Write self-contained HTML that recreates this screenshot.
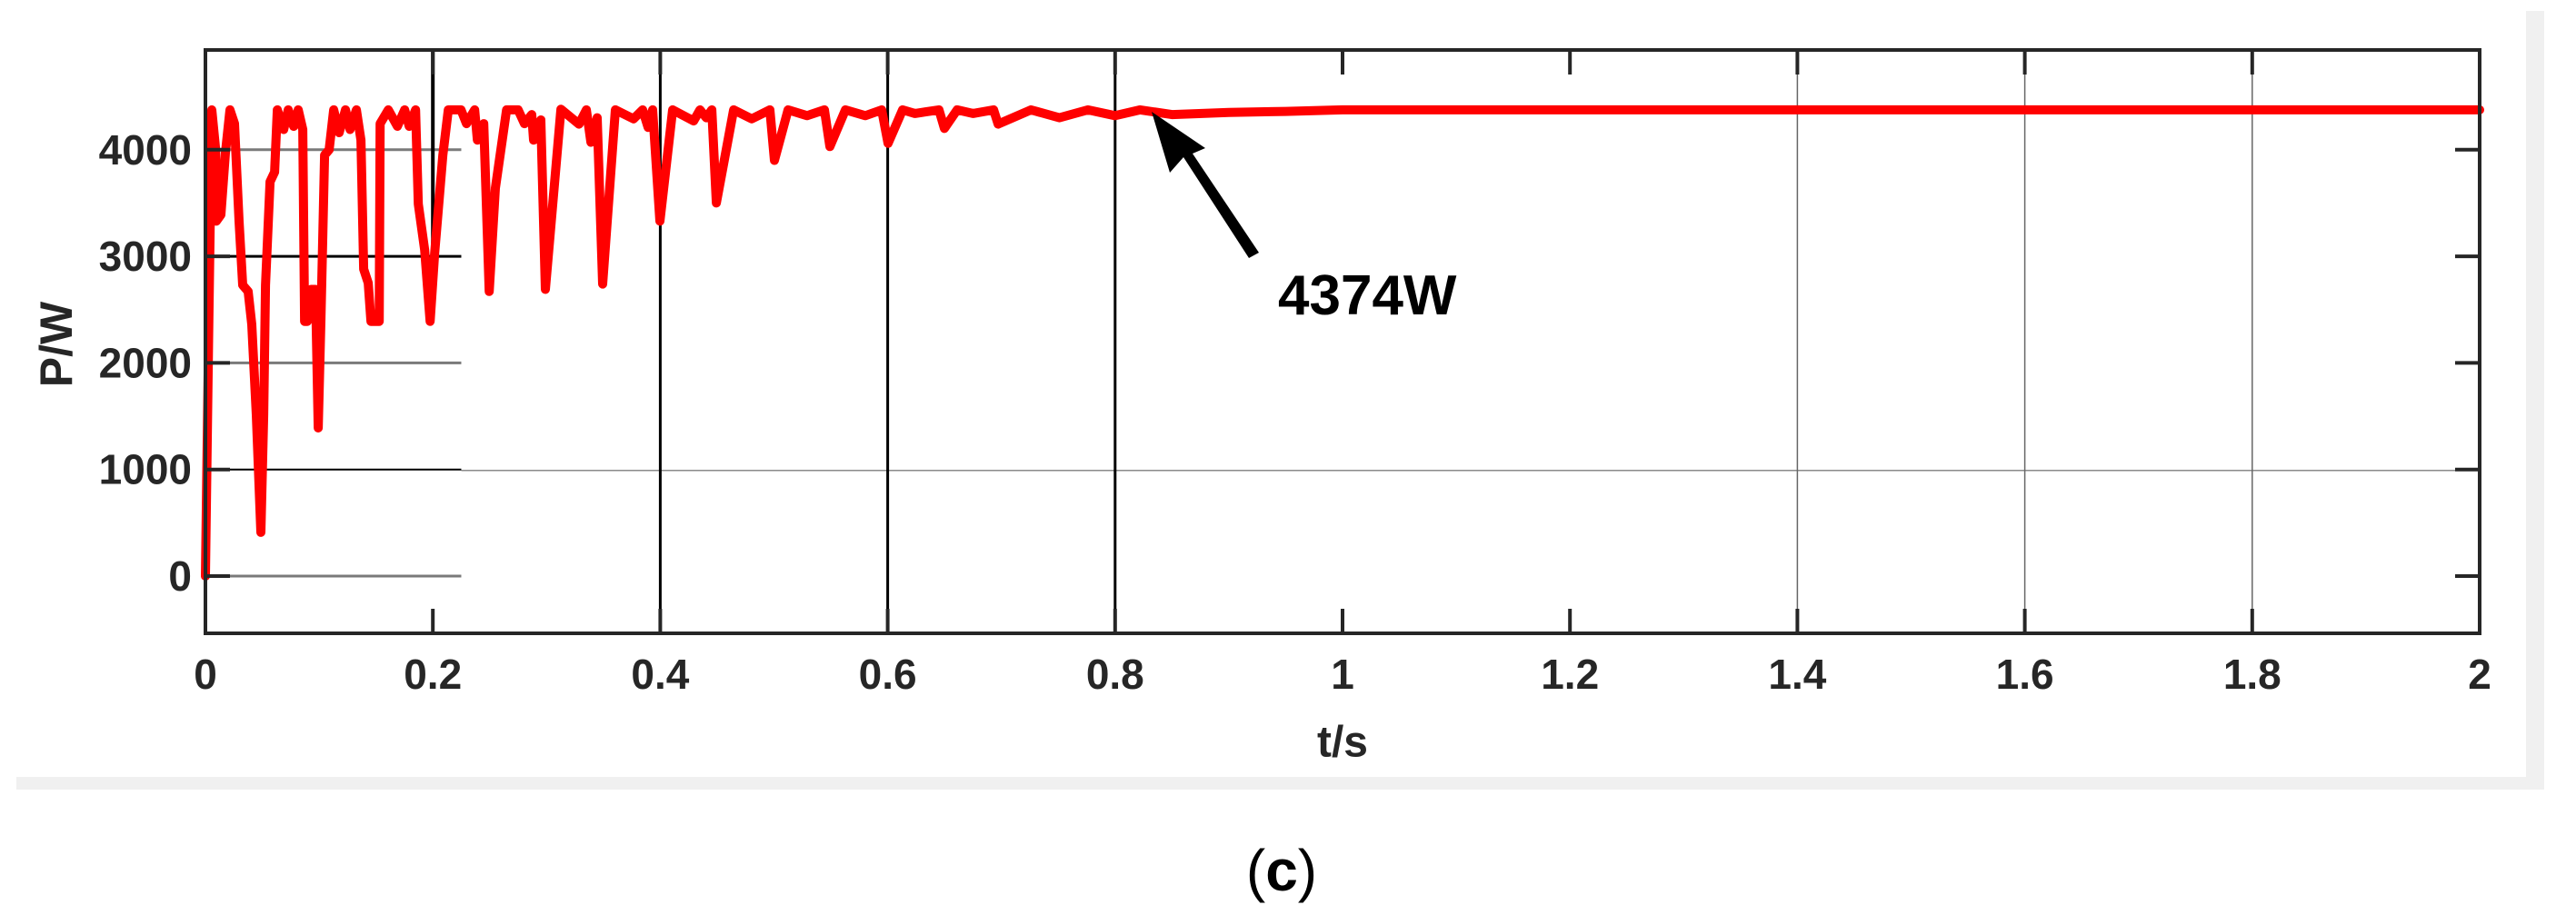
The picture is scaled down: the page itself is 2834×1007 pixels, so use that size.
<!DOCTYPE html>
<html><head><meta charset="utf-8"><style>
html,body{margin:0;padding:0;background:#fff;}
svg{display:block;}
text{font-family:"Liberation Sans",Arial,sans-serif;}
</style></head><body>
<svg id="chart" width="2834" height="1007" viewBox="0 0 2834 1007" xmlns="http://www.w3.org/2000/svg">
<rect x="18" y="855" width="2781" height="14" fill="#f0f0f0"/>
<rect x="2779" y="12" width="20" height="857" fill="#f0f0f0"/>
<g id="grid"></g>
<g id="series"></g>
<g id="axes"></g>
<text x="62" y="379" transform="rotate(-90 62 379)" text-anchor="middle" dominant-baseline="central" font-size="50" font-weight="bold" fill="#262626">P/W</text>
<text x="1477" y="817" text-anchor="middle" dominant-baseline="central" font-size="48" font-weight="bold" fill="#262626">t/s</text>
<text x="1406" y="346" font-size="62" font-weight="bold" fill="#000">4374W</text>
<polygon points="1267,123 1326,163 1312,169 1385,278 1374,284 1302,173 1287,190" fill="#000"/>
<text x="1410" y="980" text-anchor="middle" font-size="64" font-family="Liberation Serif,serif" fill="#000">(<tspan font-weight="bold">c</tspan>)</text>
</svg>
<script>
const tVals=[0,0.003,0.0056,0.009,0.0096,0.0136,0.0176,0.0216,0.0256,0.0296,0.0328,0.0376,0.0408,0.0448,0.0488,0.0512,0.0528,0.0568,0.0608,0.0632,0.0688,0.0728,0.0776,0.0816,0.0856,0.0872,0.0896,0.0928,0.0968,0.0992,0.1016,0.1048,0.1088,0.1128,0.1176,0.1232,0.1272,0.1328,0.1368,0.1392,0.1432,0.1456,0.1528,0.1536,0.1608,0.1688,0.1752,0.1792,0.1848,0.1872,0.1928,0.1976,0.2016,0.2088,0.2136,0.2248,0.2296,0.2368,0.2392,0.2448,0.2496,0.255,0.2648,0.275,0.2806,0.287,0.2886,0.295,0.299,0.3054,0.3126,0.3285,0.335,0.339,0.3445,0.3493,0.3605,0.3765,0.3845,0.3893,0.3933,0.3997,0.4109,0.4293,0.4349,0.4405,0.4453,0.4493,0.4645,0.4804,0.4964,0.5004,0.5124,0.5292,0.5444,0.5492,0.5628,0.5803,0.5947,0.6003,0.6131,0.624,0.6451,0.6499,0.6611,0.675,0.6931,0.6971,0.726,0.751,0.776,0.8,0.822,0.85,0.9,0.95,1.0,1.5,2.0];
const pVals=[0,2420,4374,4000,3330,3390,3970,4374,4245,3330,2730,2670,2360,1510,410,1510,2730,3700,3790,4374,4190,4374,4220,4374,4190,2390,2390,2690,2690,1390,2420,3950,4000,4374,4160,4374,4190,4374,4090,2880,2750,2390,2390,4245,4374,4220,4374,4220,4374,3490,3060,2390,3030,3950,4374,4374,4245,4374,4090,4245,2670,3640,4374,4374,4245,4330,4090,4280,2690,3490,4380,4240,4374,4070,4300,2740,4374,4290,4374,4210,4374,3330,4374,4270,4374,4300,4374,3500,4374,4290,4374,3900,4374,4320,4374,4030,4374,4320,4374,4060,4374,4340,4374,4200,4374,4340,4374,4240,4374,4300,4374,4320,4374,4330,4350,4360,4374,4374,4374];
const xTicks=[0,0.2,0.4,0.6,0.8,1,1.2,1.4,1.6,1.8,2];
const xTickLabels=["0","0.2","0.4","0.6","0.8","1","1.2","1.4","1.6","1.8","2"];
const yTicks=[0,1000,2000,3000,4000];
const yTickLabels=["0","1000","2000","3000","4000"];
const L=226,R=2728,T=55,B=697;
function xs(t){return L+(t/2)*(R-L);}
function ys(v){return 634-v*0.1173;}
const NS="http://www.w3.org/2000/svg";
function mk(tag,attrs,parent){const e=document.createElementNS(NS,tag);for(const k in attrs)e.setAttribute(k,attrs[k]);parent.appendChild(e);return e;}
const grid=document.getElementById('grid'),axes=document.getElementById('axes'),series=document.getElementById('series');
// horizontal grid (partial, as in reference)
yTicks.forEach(v=>{
  const y=ys(v);
  let col=(v===3000||v===1000)?"#000":"#7a7a7a";
  let w=(v===1000)?2:3;
  const g=mk('line',{x1:L,x2:xs(0.225),y1:y,y2:y,stroke:col,'stroke-width':w},grid);
  
  
  if(v===1000){
    const g2=mk('line',{x1:xs(0.225),x2:R,y1:y+1,y2:y+1,stroke:"#8a8a8a",'stroke-width':1.5},grid);
    
    
  }
});
// vertical grid
xTicks.forEach(t=>{
  const x=xs(t);
  let e=null;
  if(t===0.2) e=mk('line',{x1:x,x2:x,y1:T,y2:ys(3000),stroke:"#000",'stroke-width':4},grid);
  else if(t===0.4||t===0.6||t===0.8) e=mk('line',{x1:x,x2:x,y1:T,y2:B,stroke:"#000",'stroke-width':3},grid);
  else if(t>=1.4&&t<2) e=mk('line',{x1:x,x2:x,y1:T,y2:B,stroke:"#666",'stroke-width':1.5},grid);
  if(e){
  }
});
// series
let d="";
tVals.forEach((t,i)=>{d+=(i?"L":"M")+xs(t).toFixed(1)+","+ys(pVals[i]).toFixed(1);});
const path=mk('path',{d:d,fill:"none",stroke:"#ff0000",'stroke-width':10,'stroke-linejoin':'round','stroke-linecap':'round'},series);


// axes box
const box=mk('rect',{x:L,y:T,width:R-L,height:B-T,fill:"none",stroke:"#262626",'stroke-width':4},axes);


xTicks.forEach((t,i)=>{
  const x=xs(t);
  const a=mk('line',{x1:x,x2:x,y1:B,y2:B-27,stroke:"#262626",'stroke-width':4},axes);
  
  
  const b=mk('line',{x1:x,x2:x,y1:T,y2:T+27,stroke:"#262626",'stroke-width':4},axes);
  
  
  const tx=mk('text',{x:x,y:742,'text-anchor':'middle','dominant-baseline':'central','font-size':46,'font-weight':'bold',fill:'#262626'},axes);
  tx.textContent=xTickLabels[i];
  
  
});
yTicks.forEach((v,i)=>{
  const y=ys(v);
  const a=mk('line',{x1:L,x2:L+27,y1:y,y2:y,stroke:"#262626",'stroke-width':4},axes);
  
  
  const b=mk('line',{x1:R,x2:R-27,y1:y,y2:y,stroke:"#262626",'stroke-width':4},axes);
  
  
  const tx=mk('text',{x:211,y:y,'text-anchor':'end','dominant-baseline':'central','font-size':46,'font-weight':'bold',fill:'#262626'},axes);
  tx.textContent=yTickLabels[i];
  
  
});
</script>
</body></html>
